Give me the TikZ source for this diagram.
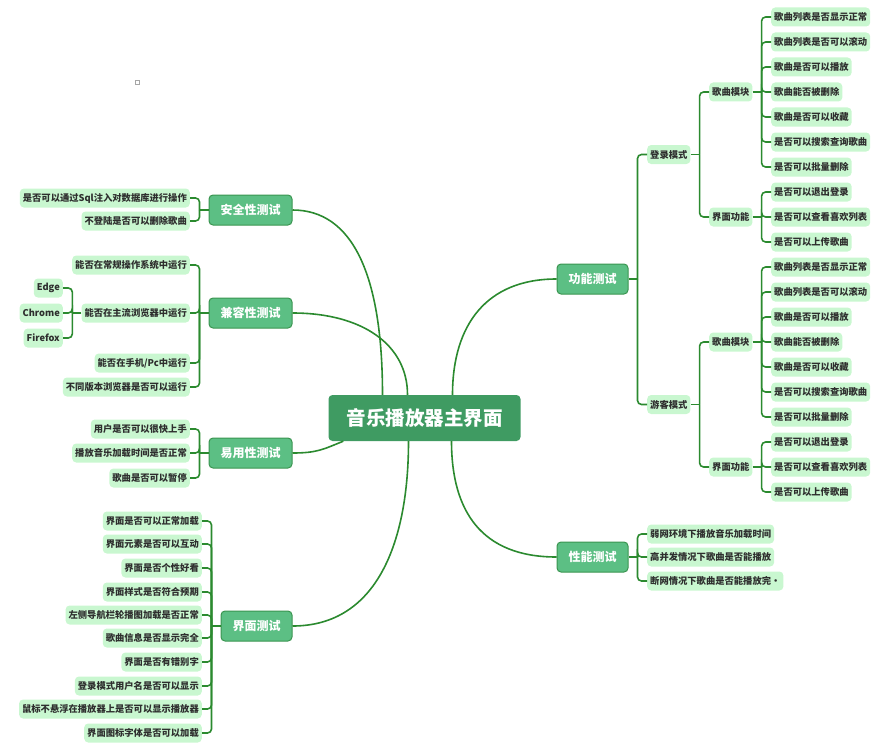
\documentclass[tikz,border=0pt]{standalone}
\usepackage{fontspec}
\setmainfont{Noto Sans CJK SC}

\definecolor{rootgreen}{HTML}{3F9B62}
\definecolor{topicgreen}{HTML}{5CBF84}
\definecolor{topicline}{HTML}{3A9550}
\definecolor{leafgreen}{HTML}{C9F7D0}
\definecolor{branchgreen}{HTML}{2B8A2F}
\definecolor{leaftext}{HTML}{2E2E2E}

\tikzset{
  rootnode/.style={fill=rootgreen, rounded corners=4pt, text=white,
    font=\fontsize{19.5}{20}\selectfont\bfseries, inner xsep=18pt, minimum height=46pt},
  topicnode/.style={draw=topicline, line width=1pt, fill=topicgreen, rounded corners=4pt,
    text=white, font=\fontsize{12}{12}\selectfont\bfseries, inner xsep=11.5pt, minimum height=30pt},
  leafnode/.style={fill=leafgreen, rounded corners=4pt, text=leaftext,
    font=\fontsize{9.3}{9.3}\selectfont\bfseries, inner xsep=3pt, inner ysep=0pt, minimum height=19pt},
  branch/.style={draw=branchgreen, line width=1.6pt, rounded corners=4pt},
  mainbranch/.style={draw=branchgreen, line width=1.6pt},
}

\begin{document}
\begin{tikzpicture}[x=1pt, y=-1pt]
\useasboundingbox (0,0) rectangle (882,749);
\draw[gray!70, line width=0.5pt] (135.5,80.5) rectangle (139.5,84.5);

% centre
\node[rootnode] (root) at (424.5,418) {音乐播放器主界面};

% left side
\node[topicnode] (safe) at (250.5,210) {安全性测试};
\node[leafnode, anchor=east] (safe1) at (190,198) {是否可以通过Sql注入对数据库进行操作};
\node[leafnode, anchor=east] (safe2) at (190,221) {不登陆是否可以删除歌曲};
\coordinate (safe-b) at ([xshift=-9pt]safe.west);
\draw[branch] (safe.west) -- (safe-b);
\draw[branch] (safe-b) |- (safe1.east);
\draw[branch] (safe-b) |- (safe2.east);

\node[topicnode] (compat) at (250.5,313) {兼容性测试};
\node[leafnode, anchor=east] (compat1) at (190,265) {能否在常规操作系统中运行};
\node[leafnode, anchor=east] (compat2) at (190,313) {能否在主流浏览器中运行};
\node[leafnode, anchor=east] (compat3) at (190,363) {能否在手机/Pc中运行};
\node[leafnode, anchor=east] (compat4) at (190,387) {不同版本浏览器是否可以运行};
\coordinate (compat-b) at ([xshift=-9pt]compat.west);
\draw[branch] (compat.west) -- (compat-b);
\draw[branch] (compat-b) |- (compat1.east);
\draw[branch] (compat-b) |- (compat2.east);
\draw[branch] (compat-b) |- (compat3.east);
\draw[branch] (compat-b) |- (compat4.east);

\node[leafnode, anchor=east] (edge) at (63,288) {Edge};
\node[leafnode, anchor=east] (chrome) at (63,313) {Chrome};
\node[leafnode, anchor=east] (firefox) at (63,338) {Firefox};
\coordinate (compat2-b) at ([xshift=-9pt]compat2.west);
\draw[branch] (compat2.west) -- (compat2-b);
\draw[branch] (compat2-b) |- (edge.east);
\draw[branch] (compat2-b) |- (chrome.east);
\draw[branch] (compat2-b) |- (firefox.east);

\node[topicnode] (ease) at (250.5,453) {易用性测试};
\node[leafnode, anchor=east] (ease1) at (190,429) {用户是否可以很快上手};
\node[leafnode, anchor=east] (ease2) at (190,453) {播放音乐加载时间是否正常};
\node[leafnode, anchor=east] (ease3) at (190,478) {歌曲是否可以暂停};
\coordinate (ease-b) at ([xshift=-9pt]ease.west);
\draw[branch] (ease.west) -- (ease-b);
\draw[branch] (ease-b) |- (ease1.east);
\draw[branch] (ease-b) |- (ease2.east);
\draw[branch] (ease-b) |- (ease3.east);

\node[topicnode] (ui) at (256.5,626) {界面测试};
\node[leafnode, anchor=east] (ui1) at (202,521) {界面是否可以正常加载};
\node[leafnode, anchor=east] (ui2) at (202,544) {界面元素是否可以互动};
\node[leafnode, anchor=east] (ui3) at (202,568) {界面是否个性好看};
\node[leafnode, anchor=east] (ui4) at (202,592) {界面样式是否符合预期};
\node[leafnode, anchor=east] (ui5) at (202,615) {左侧导航栏轮播图加载是否正常};
\node[leafnode, anchor=east] (ui6) at (202,638) {歌曲信息是否显示完全};
\node[leafnode, anchor=east] (ui7) at (202,662) {界面是否有错别字};
\node[leafnode, anchor=east] (ui8) at (202,686) {登录模式用户名是否可以显示};
\node[leafnode, anchor=east] (ui9) at (202,709) {鼠标不悬浮在播放器上是否可以显示播放器};
\node[leafnode, anchor=east] (ui10) at (202,733) {界面图标字体是否可以加载};
\coordinate (ui-b) at ([xshift=-9pt]ui.west);
\draw[branch] (ui.west) -- (ui-b);
\draw[branch] (ui-b) |- (ui1.east);
\draw[branch] (ui-b) |- (ui2.east);
\draw[branch] (ui-b) |- (ui3.east);
\draw[branch] (ui-b) |- (ui4.east);
\draw[branch] (ui-b) |- (ui5.east);
\draw[branch] (ui-b) |- (ui6.east);
\draw[branch] (ui-b) |- (ui7.east);
\draw[branch] (ui-b) |- (ui8.east);
\draw[branch] (ui-b) |- (ui9.east);
\draw[branch] (ui-b) |- (ui10.east);

% right side
\node[topicnode] (func) at (592.5,279) {功能测试};
\node[leafnode, anchor=west] (login) at (647,154.5) {登录模式};
\node[leafnode, anchor=west] (guest) at (647,404.5) {游客模式};
\coordinate (func-b) at ([xshift=9pt]func.east);
\draw[branch] (func.east) -- (func-b);
\draw[branch] (func-b) |- (login.west);
\draw[branch] (func-b) |- (guest.west);

\node[leafnode, anchor=west] (lsong) at (709,92) {歌曲模块};
\node[leafnode, anchor=west] (lui) at (709,217) {界面功能};
\coordinate (login-b) at ([xshift=9pt]login.east);
\draw[branch] (login.east) -- (login-b);
\draw[branch] (login-b) |- (lsong.west);
\draw[branch] (login-b) |- (lui.west);

\node[leafnode, anchor=west] (lsong1) at (771,17) {歌曲列表是否显示正常};
\node[leafnode, anchor=west] (lsong2) at (771,42) {歌曲列表是否可以滚动};
\node[leafnode, anchor=west] (lsong3) at (771,67) {歌曲是否可以播放};
\node[leafnode, anchor=west] (lsong4) at (771,92) {歌曲能否被删除};
\node[leafnode, anchor=west] (lsong5) at (771,117) {歌曲是否可以收藏};
\node[leafnode, anchor=west] (lsong6) at (771,142) {是否可以搜索查询歌曲};
\node[leafnode, anchor=west] (lsong7) at (771,167) {是否可以批量删除};
\coordinate (lsong-b) at ([xshift=9pt]lsong.east);
\draw[branch] (lsong.east) -- (lsong-b);
\draw[branch] (lsong-b) |- (lsong1.west);
\draw[branch] (lsong-b) |- (lsong2.west);
\draw[branch] (lsong-b) |- (lsong3.west);
\draw[branch] (lsong-b) |- (lsong4.west);
\draw[branch] (lsong-b) |- (lsong5.west);
\draw[branch] (lsong-b) |- (lsong6.west);
\draw[branch] (lsong-b) |- (lsong7.west);

\node[leafnode, anchor=west] (lui1) at (771,192) {是否可以退出登录};
\node[leafnode, anchor=west] (lui2) at (771,217) {是否可以查看喜欢列表};
\node[leafnode, anchor=west] (lui3) at (771,242) {是否可以上传歌曲};
\coordinate (lui-b) at ([xshift=9pt]lui.east);
\draw[branch] (lui.east) -- (lui-b);
\draw[branch] (lui-b) |- (lui1.west);
\draw[branch] (lui-b) |- (lui2.west);
\draw[branch] (lui-b) |- (lui3.west);

\node[leafnode, anchor=west] (gsong) at (709,342) {歌曲模块};
\node[leafnode, anchor=west] (gui) at (709,467) {界面功能};
\coordinate (guest-b) at ([xshift=9pt]guest.east);
\draw[branch] (guest.east) -- (guest-b);
\draw[branch] (guest-b) |- (gsong.west);
\draw[branch] (guest-b) |- (gui.west);

\node[leafnode, anchor=west] (gsong1) at (771,267) {歌曲列表是否显示正常};
\node[leafnode, anchor=west] (gsong2) at (771,292) {歌曲列表是否可以滚动};
\node[leafnode, anchor=west] (gsong3) at (771,317) {歌曲是否可以播放};
\node[leafnode, anchor=west] (gsong4) at (771,342) {歌曲能否被删除};
\node[leafnode, anchor=west] (gsong5) at (771,367) {歌曲是否可以收藏};
\node[leafnode, anchor=west] (gsong6) at (771,392) {是否可以搜索查询歌曲};
\node[leafnode, anchor=west] (gsong7) at (771,417) {是否可以批量删除};
\coordinate (gsong-b) at ([xshift=9pt]gsong.east);
\draw[branch] (gsong.east) -- (gsong-b);
\draw[branch] (gsong-b) |- (gsong1.west);
\draw[branch] (gsong-b) |- (gsong2.west);
\draw[branch] (gsong-b) |- (gsong3.west);
\draw[branch] (gsong-b) |- (gsong4.west);
\draw[branch] (gsong-b) |- (gsong5.west);
\draw[branch] (gsong-b) |- (gsong6.west);
\draw[branch] (gsong-b) |- (gsong7.west);

\node[leafnode, anchor=west] (gui1) at (771,442) {是否可以退出登录};
\node[leafnode, anchor=west] (gui2) at (771,467) {是否可以查看喜欢列表};
\node[leafnode, anchor=west] (gui3) at (771,492) {是否可以上传歌曲};
\coordinate (gui-b) at ([xshift=9pt]gui.east);
\draw[branch] (gui.east) -- (gui-b);
\draw[branch] (gui-b) |- (gui1.west);
\draw[branch] (gui-b) |- (gui2.west);
\draw[branch] (gui-b) |- (gui3.west);

\node[topicnode] (perf) at (592.5,557) {性能测试};
\node[leafnode, anchor=west] (perf1) at (647,534) {弱网环境下播放音乐加载时间};
\node[leafnode, anchor=west] (perf2) at (647,557) {高并发情况下歌曲是否能播放};
\node[leafnode, anchor=west] (perf3) at (647,581) {断网情况下歌曲是否能播放完•};
\coordinate (perf-b) at ([xshift=9pt]perf.east);
\draw[branch] (perf.east) -- (perf-b);
\draw[branch] (perf-b) |- (perf1.west);
\draw[branch] (perf-b) |- (perf2.west);
\draw[branch] (perf-b) |- (perf3.west);

% main branches
\draw[mainbranch] (safe.east) .. controls +(60,0) and +(0,-120) .. ([xshift=-42pt]root.north);
\draw[mainbranch] (compat.east) .. controls +(70,0) and +(0,-50) .. ([xshift=-17pt]root.north);
\draw[mainbranch] (func.west) .. controls +(-70,0) and +(0,-70) .. ([xshift=28pt]root.north);
\draw[mainbranch] (ease.east) .. controls +(25,0) and +(-20,8) .. ([xshift=15pt]root.south west);
\draw[mainbranch] (ui.east) .. controls +(85,0) and +(0,100) .. ([xshift=-16pt]root.south);
\draw[mainbranch] (perf.west) .. controls +(-75,0) and +(0,70) .. ([xshift=27pt]root.south);
\end{tikzpicture}
\end{document}
